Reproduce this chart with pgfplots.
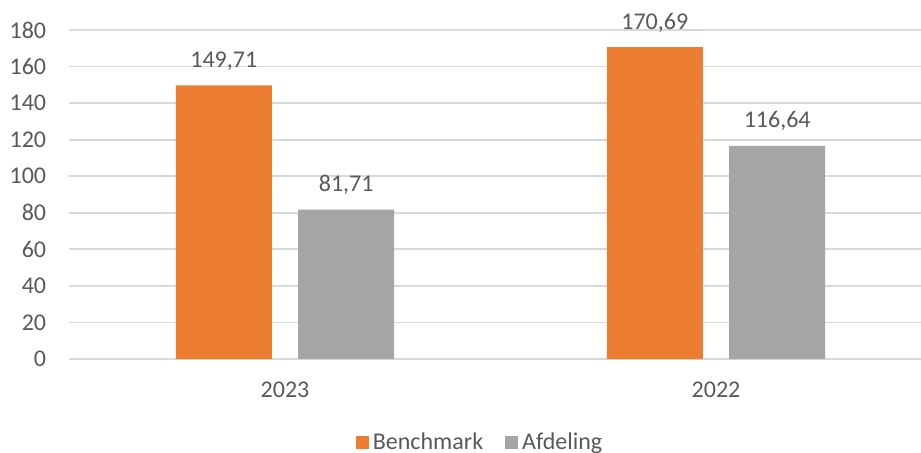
\documentclass[border=0pt]{standalone}
\usepackage{fontspec}
\setmainfont{Carlito}
\usepackage{pgfplots}
\pgfplotsset{compat=1.18}
\definecolor{bench}{HTML}{ED7D31}
\definecolor{afd}{HTML}{A5A5A5}
\definecolor{gridc}{HTML}{D9D9D9}
\definecolor{txt}{HTML}{595959}
\begin{document}
\begin{tikzpicture}
\begin{axis}[
  at={(0,0)}, anchor=south west,
  scale only axis,
  width=425.75pt, height=164.5pt,
  xmin=-0.5, xmax=1.4756,
  ymin=0, ymax=180,
  ytick={0,20,...,180},
  xtick={0,1},
  xticklabels={2023,2022},
  ybar,
  bar width=48pt,
  axis line style={draw=none},
  major tick length=0pt,
  ymajorgrids,
  grid style={gridc, line width=0.85pt},
  /pgf/number format/assume math mode=true,
  tick label style={font=\fontsize{12}{14}\selectfont, text=txt},
  yticklabel style={anchor=east, inner sep=0pt, xshift=-11.5pt},
  xticklabel style={anchor=base, inner sep=0pt, yshift=-19pt},
  nodes near coords,
  nodes near coords style={font=\fontsize{12}{14}\selectfont, text=txt, anchor=base, inner sep=0pt, yshift=9pt,
    /pgf/number format/.cd, fixed, fixed zerofill, precision=2, use comma, 1000 sep={}, assume math mode=true},
  legend columns=2,
  legend style={draw=none, fill=none, at={(0.4833,-0.255)}, anchor=center,
    font=\fontsize{12}{14}\selectfont, text=txt, inner sep=0pt,
    nodes={inner xsep=2pt, inner ysep=1pt},
    /tikz/every even column/.append style={column sep=9pt}},
  legend cell align=left,
  legend image code/.code={\fill[#1] (0pt,-3.25pt) rectangle (6.5pt,3.25pt);},
  clip=false,
]
\addplot[fill=bench, draw=none, bar shift=-30.6pt] coordinates {(0,149.71) (1,170.69)};
\addplot[fill=afd, draw=none, bar shift=30.6pt] coordinates {(0,81.71) (1,116.64)};
\legend{Benchmark,Afdeling}
\end{axis}
\pgfresetboundingbox
\path[use as bounding box] (-34.75pt,-46.5pt) rectangle (425.75pt,179.5pt);
\end{tikzpicture}
\end{document}
